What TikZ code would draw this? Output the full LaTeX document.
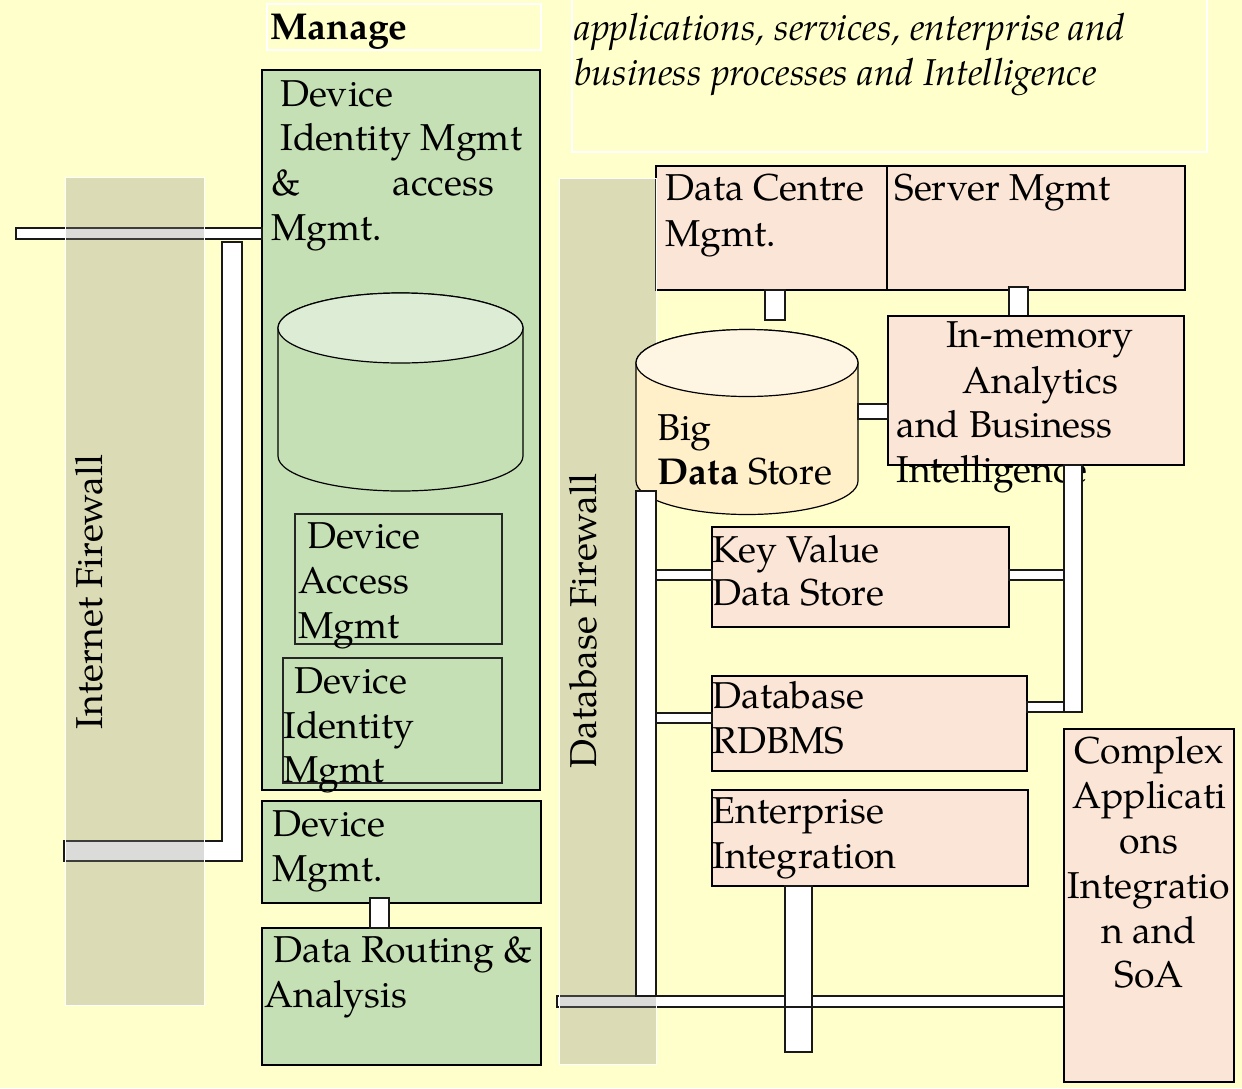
\documentclass[tikz,border=0pt]{standalone}
\usepackage{fontspec}
\setmainfont{texgyrepagella}[Extension=.otf, UprightFont=*-regular, BoldFont=*-bold, ItalicFont=*-italic, BoldItalicFont=*-bolditalic]
\usetikzlibrary{fit,shapes.geometric}
\definecolor{bgc}{HTML}{FFFFCC}
\definecolor{greenc}{HTML}{C5E0B4}
\definecolor{greentop}{HTML}{DDECD4}
\definecolor{pinkc}{HTML}{FBE5D6}
\definecolor{creamc}{HTML}{FFF0CA}
\definecolor{creamtop}{HTML}{FFF5E3}
\definecolor{fwc}{RGB}{139,139,136}
\tikzset{
  box/.style={draw=black, line width=0.75pt, inner sep=0pt, outer sep=0pt},
  pinkbox/.style={box, fill=pinkc},
  greenbox/.style={box, fill=greenc},
  subbox/.style={draw=black!85, line width=0.6pt, inner sep=0pt, outer sep=0pt},
  pipe/.style={draw=black!90, fill=white, line width=0.75pt, inner sep=0pt, outer sep=0pt},
  fwall/.style={draw=white, line width=0.5pt, fill=fwc, fill opacity=0.31, inner sep=0pt, outer sep=0pt},
  wbox/.style={draw=white, line width=0.6pt, inner sep=0pt, outer sep=0pt},
  txt/.style={inner sep=0pt, anchor=base west, font=\fontsize{18.7}{22.5}\selectfont},
  ctxt/.style={txt, anchor=base},
  vtxt/.style={txt, anchor=base, rotate=90}
}
\begin{document}
\begin{tikzpicture}[x=0.5pt,y=-0.5pt]
\fill[bgc] (0,0) rectangle (1242,1088);
\useasboundingbox (0,0) rectangle (1242,1088);

% header boxes
\node[wbox, fit={(267,4) (541,50)}] (manbox) {};
\node[txt, font=\fontsize{18.7}{22.5}\selectfont\bfseries] (man) at (270,39) {Manage};
\node[wbox, fit={(572,-10) (1207,152)}] (topbox) {};
\node[txt, font=\fontsize{18.7}{22.5}\selectfont\itshape] (top1) at (574,40) {applications, services, enterprise and};
\node[txt, font=\fontsize{18.7}{22.5}\selectfont\itshape] (top2) at (574,85) {business processes and Intelligence};

% left green column
\node[greenbox, fit={(262,70) (540,790)}] (idm) {};
\node[txt] (idm1) at (280,106) {Device};
\node[txt] (idm2) at (280,150) {Identity Mgmt};
\node[txt] (idm3) at (271,195) {\&};
\node[txt] (idm4) at (392,195) {access};
\node[txt] (idm5) at (271,240) {Mgmt.};

% cylinder in green column
\path[draw=black, line width=0.6pt, fill=greenc] (278,328) -- (278,456)
  arc[start angle=180, end angle=0, x radius=122.5, y radius=35] -- (523,328)
  arc[start angle=0, end angle=-180, x radius=122.5, y radius=35] -- cycle;
\node[draw=black, line width=0.6pt, fill=greentop, ellipse, inner sep=0pt, minimum width=122.5pt, minimum height=35pt] (gcyl) at (400.5,328) {};

\node[subbox, fit={(295,514) (502,644)}] (dam) {};
\node[txt] (dam1) at (307,548) {Device};
\node[txt] (dam2) at (298,593) {Access};
\node[txt] (dam3) at (298,638) {Mgmt};

\node[subbox, fit={(283,658) (502,783)}] (dim) {};
\node[txt] (dim1) at (294,693) {Device};
\node[txt] (dim2) at (283,738) {Identity};
\node[txt] (dim3) at (283,782) {Mgmt};

\node[greenbox, fit={(262,801) (541,903)}] (dm) {};
\node[txt] (dm1) at (272,836) {Device};
\node[txt] (dm2) at (272,881) {Mgmt.};

\node[greenbox, fit={(262,928) (541,1065)}] (dra) {};
\node[txt] (dra1) at (273,962) {Data Routing \&};
\node[txt] (dra2) at (264,1007) {Analysis};

\node[pipe, fit={(370,898) (389,928)}] (p0) {};

% internet firewall pipes
\node[pipe, fit={(16,228) (262,239)}] (p1) {};
\path[pipe] (64,841) -- (222,841) -- (222,242) -- (242,242) -- (242,861) -- (64,861) -- cycle;
\coordinate (p2) at (232,550);

% internet firewall
\node[fwall, fit={(65,177) (204,1005)}] (ifw) {};
\node[vtxt] (ifwt) at (102,592) {Internet Firewall};

% right side top boxes
\node[pinkbox, fit={(656,166) (887,290)}] (dc) {};
\node[txt] (dc1) at (665,200) {Data Centre};
\node[txt] (dc2) at (665,246) {Mgmt.};
\node[pinkbox, fit={(887,166) (1185,290)}] (sm) {};
\node[txt] (sm1) at (894,200) {Server Mgmt};
\node[pipe, fit={(765,290) (785,320)}] (p3) {};
\node[pipe, fit={(1009,287) (1028,317)}] (p4) {};

% bottom horizontal pipe under database firewall
\node[pipe, fit={(557,996) (1064,1007)}] (p5) {};

% database firewall
\node[fwall, fit={(559,178) (656,1064)}] (dfw) {};
\node[vtxt] (dfwt) at (596,621) {Database Firewall};

% big data store
\path[draw=black, line width=0.6pt, fill=creamc] (636,363) -- (636,481)
  arc[start angle=180, end angle=0, x radius=111, y radius=33.5] -- (858,363)
  arc[start angle=0, end angle=-180, x radius=111, y radius=33.5] -- cycle;
\node[draw=black, line width=0.6pt, fill=creamtop, ellipse, inner sep=0pt, minimum width=111pt, minimum height=33.5pt] (bds) at (747,363) {};
\node[txt] (bds1) at (657,440) {Big};
\node[txt] (bds2) at (657,484) {\textbf{Data} Store};

\node[pipe, fit={(636,491) (656,996)}] (p6) {};

% in-memory analytics
\node[pinkbox, fit={(888,316) (1184,465)}] (ima) {};
\node[ctxt] (ima1) at (1040,347) {In-memory};
\node[ctxt] (ima2) at (1040,393) {Analytics};
\node[txt] (ima3) at (896,437) {and Business};
\node[txt] (ima4) at (896,482) {Intelligence};
\node[pipe, fit={(858,404) (888,419)}] (p7) {};

% key value
\node[pinkbox, fit={(712,527) (1009,627)}] (kv) {};
\node[txt] (kv1) at (712,562) {Key Value};
\node[txt] (kv2) at (712,605) {Data Store};
\node[pipe, fit={(656,570) (712,580)}] (p8) {};
\node[pipe, fit={(1009,570) (1064,580)}] (p9) {};

% database
\node[pinkbox, fit={(712,676) (1027,771)}] (db) {};
\node[txt] (db1) at (712,708) {Database};
\node[txt] (db2) at (712,753) {RDBMS};
\node[pipe, fit={(656,713) (712,723)}] (p10) {};
\node[pipe, fit={(1027,702) (1064,712)}] (p11) {};

% right vertical pipe
\node[pipe, fit={(1064,465) (1082,712)}] (p12) {};

% enterprise integration
\node[pinkbox, fit={(712,790) (1028,886)}] (ei) {};
\node[txt] (ei1) at (712,823) {Enterprise};
\node[txt] (ei2) at (712,868) {Integration};
\node[pipe, fit={(785,886) (812,1052)}] (p13) {};
\draw[draw=black!90, line width=0.75pt] (p13.west |- p5.south) -- (p13.east |- p5.south);

% complex applications
\node[pinkbox, fit={(1064,729) (1234,1082)}] (ca) {};
\node[ctxt] (ca1) at (1149,763) {Complex};
\node[ctxt] (ca2) at (1149,808) {Applicati};
\node[ctxt] (ca3) at (1149,853) {ons};
\node[ctxt] (ca4) at (1149,898) {Integratio};
\node[ctxt] (ca5) at (1149,943) {n and};
\node[ctxt] (ca6) at (1149,987) {SoA};
\end{tikzpicture}
\end{document}
